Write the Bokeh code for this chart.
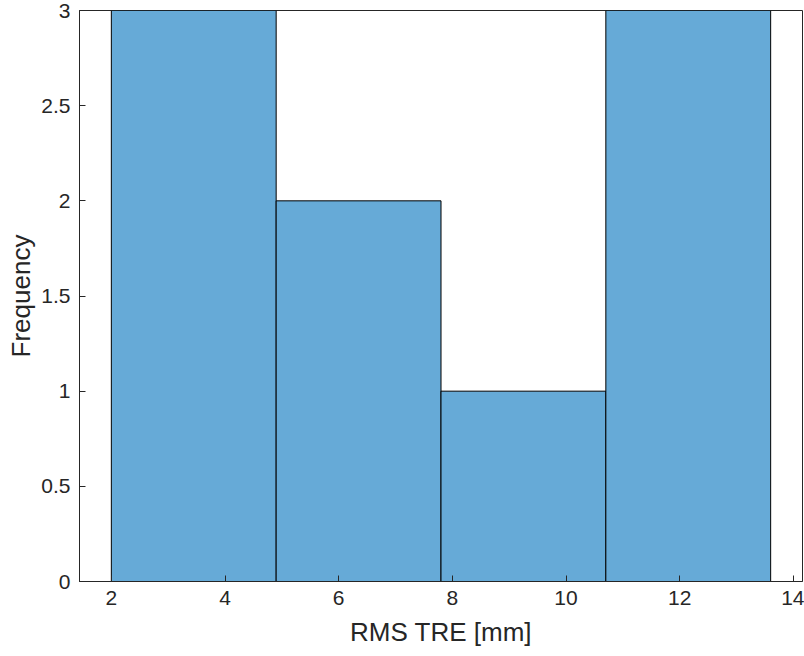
from bokeh.plotting import figure
from bokeh.models import Range1d, FixedTicker
from bokeh.embed import file_html
from bokeh.resources import INLINE

bin_edges = [2.0, 4.9, 7.8, 10.7, 13.6]
counts = [3, 2, 1, 3]
x_ticks = [2, 4, 6, 8, 10, 12, 14]
y_ticks = [0, 0.5, 1, 1.5, 2, 2.5, 3]
y_tick_labels = ["0", "0.5", "1", "1.5", "2", "2.5", "3"]

FONT = "Liberation Sans"
TXT = "#262626"
AX = "#262626"

p = figure(width=804, height=656, output_backend="svg", toolbar_location=None,
           x_range=Range1d(1.44, 14.16), y_range=Range1d(0, 3),
           min_border_left=79, min_border_right=2, min_border_top=10, min_border_bottom=75)

p.quad(left=bin_edges[:-1], right=bin_edges[1:], bottom=0, top=counts,
       fill_color="#66AAD7", line_color="black", line_width=1)

p.xgrid.visible = False
p.ygrid.visible = False
p.outline_line_color = AX
p.outline_line_width = 1
p.background_fill_color = "white"
p.border_fill_color = "white"

for ax in (p.xaxis[0], p.yaxis[0]):
    ax.major_tick_in = 6
    ax.major_tick_out = 0
    ax.minor_tick_in = 0
    ax.minor_tick_out = 0
    ax.axis_line_color = AX
    ax.major_tick_line_color = AX
    ax.major_label_text_font = FONT
    ax.major_label_text_font_size = "21px"
    ax.major_label_text_color = TXT
    ax.axis_label_text_font = FONT
    ax.axis_label_text_font_size = "26px"
    ax.axis_label_text_font_style = "normal"
    ax.axis_label_text_color = TXT

p.xaxis[0].ticker = FixedTicker(ticks=x_ticks)
p.yaxis[0].ticker = FixedTicker(ticks=y_ticks)
p.yaxis[0].major_label_overrides = {t: l for t, l in zip(y_ticks, y_tick_labels)}
p.xaxis[0].axis_label = "RMS TRE [mm]"
p.yaxis[0].axis_label = "Frequency"
p.xaxis[0].major_label_standoff = 9
p.yaxis[0].major_label_standoff = 9
p.xaxis[0].axis_label_standoff = 9
p.yaxis[0].axis_label_standoff = 2

out = file_html(p, INLINE)
open("out.html", "w").write(out)
